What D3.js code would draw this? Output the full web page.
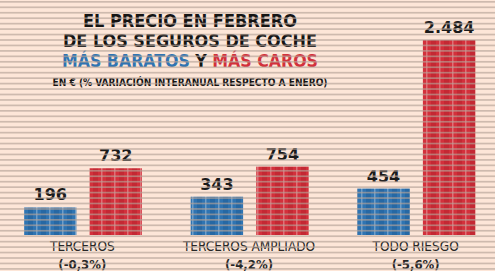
<!DOCTYPE html>
<html>
<head>
<meta charset="utf-8">
<script src="https://cdn.jsdelivr.net/npm/d3@7"></script>
<style>
  body { margin: 0; background: #fde6d8; }
  svg { display: block; }
</style>
</head>
<body>
<div id="chart"></div>
<script>
// data
const categories = ["TERCEROS", "TERCEROS AMPLIADO", "TODO RIESGO"];
const variations = ["(-0,3%)", "(-4,2%)", "(-5,6%)"];
const cheapest = [196, 343, 454];
const dearest = [732, 754, 2484];
const series = ["cheap", "dear"];

const width = 495, height = 271;

let svg = d3.select("#chart").append("svg")
    .attr("width", width)
    .attr("height", height);

svg.append("rect")
    .attr("width", width)
    .attr("height", height)
    .attr("fill", "#fde6d8");

// patterns to fake the painted look of the bars
let defs = svg.append("defs");
function brushPattern(id, base, dark) {
    let p = defs.append("pattern")
        .attr("id", id)
        .attr("patternUnits", "userSpaceOnUse")
        .attr("width", 13)
        .attr("height", 11);
    p.append("rect").attr("width", 13).attr("height", 11).attr("fill", base);
    p.append("rect").attr("x", 2).attr("width", 5).attr("height", 11).attr("fill", dark).attr("opacity", 0.5);
    p.append("rect").attr("x", 10).attr("width", 1.5).attr("height", 11).attr("fill", "#fff").attr("opacity", 0.3);
}
brushPattern("pat-cheap", "#2f74b2", "#1d5b96");
brushPattern("pat-dear", "#d3303b", "#b51f2b");

// scales
let x = d3.scaleBand()
    .domain(categories)
    .range([-1, 499]);

let xSub = d3.scaleBand()
    .domain(series)
    .range([25, 143])
    .paddingInner(0.2);

// the original pictogram is not drawn from zero, so the baseline sits a bit below 0
let y = d3.scaleLinear()
    .domain([-180, 2484])
    .range([235, 40]);

let colors = { cheap: "url(#pat-cheap)", dear: "url(#pat-dear)" };

let rows = [];
categories.forEach((c, i) => {
    rows.push({ cat: c, key: "cheap", value: cheapest[i] });
    rows.push({ cat: c, key: "dear", value: dearest[i] });
});

let fmt = d3.formatLocale({ decimal: ",", thousands: ".", grouping: [3], currency: ["", "€"] }).format(",d");

// bars
svg.selectAll(".bar")
    .data(rows)
    .enter()
    .append("rect")
    .attr("class", "bar")
    .attr("x", d => x(d.cat) + xSub(d.key))
    .attr("y", d => y(d.value))
    .attr("width", xSub.bandwidth())
    .attr("height", d => y.range()[0] - y(d.value))
    .attr("fill", d => colors[d.key]);

// value labels
svg.selectAll(".value")
    .data(rows)
    .enter()
    .append("text")
    .attr("class", "value")
    .attr("x", d => x(d.cat) + xSub(d.key) + xSub.bandwidth() / 2)
    .attr("y", d => y(d.value) - 7)
    .attr("text-anchor", "middle")
    .style("font-family", "'DejaVu Sans', sans-serif")
    .style("font-weight", "bold")
    .style("font-size", "16px")
    .attr("fill", "#1a1a1a")
    .text(d => fmt(d.value));

// category labels
let labelFont = "'DejaVu Sans Condensed', 'Liberation Sans Narrow', sans-serif";
svg.selectAll(".cat")
    .data(categories)
    .enter()
    .append("text")
    .attr("class", "cat")
    .attr("x", d => x(d) + x.bandwidth() / 2)
    .attr("y", 251)
    .attr("text-anchor", "middle")
    .style("font-family", labelFont)
    .style("font-size", "13.5px")
    .attr("fill", "#262626")
    .text(d => d);

svg.selectAll(".var")
    .data(categories)
    .enter()
    .append("text")
    .attr("class", "var")
    .attr("x", d => x(d) + x.bandwidth() / 2)
    .attr("y", 269)
    .attr("text-anchor", "middle")
    .style("font-family", labelFont)
    .style("font-weight", "bold")
    .style("font-size", "13px")
    .attr("fill", "#262626")
    .text((d, i) => variations[i]);

// title block
function titleLine(yPos, len, size) {
    return svg.append("text")
        .attr("x", 190)
        .attr("y", yPos)
        .attr("text-anchor", "middle")
        .attr("textLength", len)
        .attr("lengthAdjust", "spacingAndGlyphs")
        .style("font-family", labelFont)
        .style("font-weight", "bold")
        .style("font-size", size + "px")
        .attr("fill", "#141414");
}
titleLine(27, 214, 17).text("EL PRECIO EN FEBRERO");
titleLine(47, 254, 17).text("DE LOS SEGUROS DE COCHE");
let t3 = titleLine(67, 256, 17);
t3.append("tspan").attr("fill", "#2f74b2").text("MÁS BARATOS");
t3.append("tspan").attr("fill", "#141414").text(" Y ");
t3.append("tspan").attr("fill", "#d3303b").text("MÁS CAROS");
titleLine(86, 275, 11).text("EN € (% VARIACIÓN INTERANUAL RESPECTO A ENERO)");

// scan-line stripes over everything
svg.append("g")
    .attr("class", "stripes")
    .selectAll("rect")
    .data(d3.range(0, height, 5.45))
    .enter()
    .append("rect")
    .attr("x", 0)
    .attr("y", d => d + 1)
    .attr("width", width)
    .attr("height", 1.7)
    .attr("fill", "#b5a398")
    .attr("opacity", 0.65);
</script>
</body>
</html>
